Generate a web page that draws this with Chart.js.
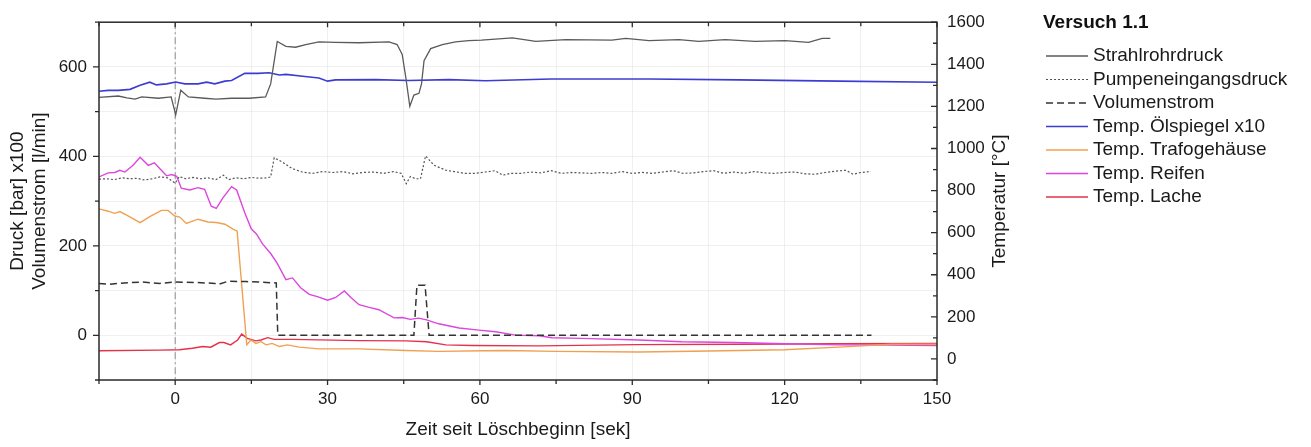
<!DOCTYPE html>
<html><head><meta charset="utf-8">
<script src="https://cdn.jsdelivr.net/npm/chart.js@4.4.1/dist/chart.umd.min.js"></script>
<style>html,body{margin:0;padding:0;background:#fff}</style>
</head><body>
<canvas id="c" width="1311" height="447"></canvas>
<script>
const legendTitle = 'Versuch 1.1';
const seriesNames = ['Strahlrohrdruck','Pumpeneingangsdruck','Volumenstrom','Temp. Ölspiegel x10','Temp. Trafogehäuse','Temp. Reifen','Temp. Lache'];
const rightTitle = 'Temperatur [°C]';
const xTickLabels = [0,30,60,90,120,150];
const leftTickLabels = [0,200,400,600];
const rightTickLabels = [0,200,400,600,800,1000,1200,1400,1600];

const tStrahl = [-15,-11.2,-9.5,-7.9,-6.6,-3.3,-0.8,0.1,1.1,2.6,5.8,8,11.1,14.6,17.8,18.8,20.1,21.8,23.7,25.7,28.3,31.6,36.2,42.1,43.7,44.7,45.4,46.2,47.0,48.0,48.5,49.0,50.3,52.6,55.2,57.8,60.3,66.4,71,76.9,86,88.7,93.3,99.2,103.1,108.3,114.2,120.1,124.7,127.4,129];
const vStrahl = [532,535,531,528,533,530,533,493,548,533,530,528,530,530,533,562,657,646,644,650,656,655,654,656,650,628,577,512,537,541,562,614,641,650,656,659,660,665,657,661,660,664,659,661,657,661,657,659,655,664,664];

const tPumpe = [-15,-13.5,-12,-10.5,-9,-7.5,-6,-4.5,-3,-1.5,0,0.8,2,3.5,5,6.5,8,9.5,10.5,12,13.5,15,16.5,18,18.8,19.5,21,23,25,27,29,31,33,35,37,39,41,43,44.5,45.5,46.3,47.3,48.3,49.3,51,53.3,55,57,59,61,63,64.5,66,68,70,72,74,76,78,80,82,84,86,88,90,92,94,96,98,100,102,104,106,108,110,112,114,116,118,120,122,124,126,128,130,132,133.5,135,137];
const vPumpe = [349,350,348,352,350,351,347,350,354,352,340,355,350,353,350,352,348,358,348,352,350,353,351,352,354,397,388,373,365,362,366,364,366,361,364,365,362,366,362,339,355,350,350,401,380,369,366,362,362,365,368,358,362,362,365,363,368,362,364,363,362,364,362,366,362,364,362,365,368,362,363,366,368,362,365,362,366,363,362,364,365,361,360,364,367,369,360,364,366];

const tVol = [-15,-13,-10,-6.5,-3,0,4,7.8,8.5,10.5,14,16.5,19.9,20.2,47.0,47.6,49.2,50.0,137.1];
const vVol = [116,114,117,119,116,119,118,116,114,121,120,119,117,0,0,112,112,0,0];

const tOel = [-15,-13.2,-11.2,-8.9,-6.9,-5.0,-3.7,-1.7,0.1,1.9,4.5,6.2,7.8,9.8,11.1,13.7,16.3,18.5,20.5,21.8,25.1,28.3,30.0,31.6,39.5,46.0,53.9,61.1,74,93.3,111,130.6,150];
const vOel = [1272,1276,1276,1281,1300,1315,1302,1307,1316,1307,1307,1315,1307,1320,1323,1357,1357,1360,1349,1352,1343,1335,1320,1326,1327,1323,1327,1322,1330,1330,1326,1320,1315];

const tTrafo = [-15,-13.2,-11.9,-10.9,-9.2,-6.9,-5.0,-2.7,-1.4,-0.1,0.9,2.2,4.5,6.5,8.1,9.8,11.4,12.2,14.1,14.9,15.9,16.9,17.9,19.1,20.5,22.1,24.4,28.3,36.2,45.4,51.9,61,65,75,91.3,105,120,130.6,141,150];
const vTrafo = [713,702,692,700,679,648,676,706,706,679,674,644,664,651,648,640,617,607,67,90,74,82,67,74,59,67,56,48,48,40,36,39,40,36,33,38,44,56,70,70];

const tReifen = [-15,-13.2,-11.9,-10.9,-9.9,-8.3,-6.9,-5.3,-4.1,-3.0,-1.7,-0.7,0.3,1.2,2.9,4.5,5.8,7.1,8.1,9.4,11.1,12.1,13.7,15.0,16.0,17.2,18.8,20.1,21.8,23.1,24.7,26.4,28.0,30.0,31.6,33.3,34.6,36.2,38.2,40.1,43.1,44.7,46.3,47.9,49.5,51.9,55.9,59.8,63.1,67.0,71.6,74.2,80,91.3,99.8,110,120,130.6,140,150];
const vReifen = [865,884,886,896,888,920,958,920,932,904,870,876,868,811,803,814,806,726,715,765,819,803,695,617,594,547,501,454,377,385,338,307,296,279,292,323,292,258,245,234,195,197,188,194,186,167,147,137,129,113,110,101,98,90,82,78,72,67,66,64];

const tLache = [-15,-3.1,0.8,3.4,5.4,7.0,8.7,9.6,10.9,12.3,13.1,14.2,15.9,16.9,18.2,19.5,23.1,36.2,45.4,49.5,53.3,58.5,71.6,91,111,130,150];
const vLache = [39,42,44,51,59,56,78,78,67,90,118,98,86,90,101,93,93,87,86,82,67,64,62,68,70,72,74];

const mk = (ts, vs) => ts.map((t, i) => ({x: t, y: vs[i]}));
const FONT = '"Liberation Sans", Arial, sans-serif';

const datasets = [
  {label: seriesNames[0], data: mk(tStrahl, vStrahl), yAxisID: 'y', borderColor: '#5a5a5a', borderWidth: 1.3, borderDash: []},
  {label: seriesNames[1], data: mk(tPumpe, vPumpe), yAxisID: 'y', borderColor: '#555555', borderWidth: 1.2, borderDash: [2, 2]},
  {label: seriesNames[2], data: mk(tVol, vVol), yAxisID: 'y', borderColor: '#333333', borderWidth: 1.5, borderDash: [7, 4]},
  {label: seriesNames[3], data: mk(tOel, vOel), yAxisID: 'y2', borderColor: '#3c3cd2', borderWidth: 1.6, borderDash: []},
  {label: seriesNames[4], data: mk(tTrafo, vTrafo), yAxisID: 'y2', borderColor: '#f0a050', borderWidth: 1.4, borderDash: []},
  {label: seriesNames[5], data: mk(tReifen, vReifen), yAxisID: 'y2', borderColor: '#dc46dc', borderWidth: 1.4, borderDash: []},
  {label: seriesNames[6], data: mk(tLache, vLache), yAxisID: 'y2', borderColor: '#e3324a', borderWidth: 1.4, borderDash: []}
].map(d => Object.assign(d, {pointRadius: 0, tension: 0, fill: false}));

const decor = {
  id: 'decor',
  beforeDatasetsDraw(chart) {
    const {ctx, chartArea: a, scales: {x}} = chart;
    const px = x.getPixelForValue(0);
    ctx.save();
    ctx.strokeStyle = '#8a8a8a'; ctx.lineWidth = 1; ctx.setLineDash([7, 3, 2, 3]);
    ctx.beginPath(); ctx.moveTo(px, a.top); ctx.lineTo(px, a.bottom); ctx.stroke();
    ctx.restore();
  },
  afterDraw(chart) {
    const {ctx, chartArea: a, scales: {x, y, y2}} = chart;
    ctx.save();
    ctx.setLineDash([]);
    ctx.strokeStyle = '#2b2b2b';
    ctx.lineWidth = 1.5;
    ctx.strokeRect(a.left, a.top, a.right - a.left, a.bottom - a.top);
    ctx.lineWidth = 1.3;
    ctx.beginPath();
    x.ticks.forEach(t => {
      const p = x.getPixelForValue(t.value);
      const L = xTickLabels.includes(t.value) ? 5 : 4;
      ctx.moveTo(p, a.bottom); ctx.lineTo(p, a.bottom + L);
      ctx.moveTo(p, a.top); ctx.lineTo(p, a.top + L);
    });
    y.ticks.forEach(t => {
      const p = y.getPixelForValue(t.value);
      const L = leftTickLabels.includes(t.value) ? 6 : 4;
      ctx.moveTo(a.left, p); ctx.lineTo(a.left - L, p);
    });
    y2.ticks.forEach(t => {
      const p = y2.getPixelForValue(t.value);
      const L = rightTickLabels.includes(t.value) ? 6 : 4;
      ctx.moveTo(a.right, p); ctx.lineTo(a.right - L, p);
    });
    ctx.stroke();

    // right axis title (reads bottom-to-top)
    ctx.save();
    ctx.translate(1000, (a.top + a.bottom) / 2);
    ctx.rotate(-Math.PI / 2);
    ctx.fillStyle = '#1a1a1a';
    ctx.font = '19px ' + FONT;
    ctx.textAlign = 'center';
    ctx.textBaseline = 'middle';
    ctx.fillText(rightTitle, 0, 0);
    ctx.restore();

    // legend
    ctx.fillStyle = '#111';
    ctx.textBaseline = 'middle';
    ctx.textAlign = 'left';
    ctx.font = 'bold 19px ' + FONT;
    ctx.fillText(legendTitle, 1043, 23);
    ctx.font = '19px ' + FONT;
    chart.data.datasets.forEach((d, i) => {
      const yy = 56 + i * 23.5;
      ctx.strokeStyle = d.borderColor;
      ctx.lineWidth = d.borderWidth;
      ctx.setLineDash(d.borderDash || []);
      ctx.beginPath(); ctx.moveTo(1046, yy); ctx.lineTo(1088, yy); ctx.stroke();
      ctx.setLineDash([]);
      ctx.fillStyle = '#1a1a1a';
      ctx.fillText(d.label, 1093, yy);
    });
    ctx.restore();
  }
};

const gridFaint = 'rgba(0,0,0,0.06)';
new Chart(document.getElementById('c'), {
  type: 'line',
  data: {datasets},
  plugins: [decor],
  options: {
    responsive: false,
    animation: false,
    layout: {padding: {left: 0, top: 14, right: 294, bottom: 0}},
    plugins: {legend: {display: false}, tooltip: {enabled: false}},
    scales: {
      x: {
        type: 'linear', min: -15, max: 150,
        afterFit(s) { s.height = 67; },
        border: {display: false},
        grid: {color: gridFaint, drawTicks: false},
        ticks: {stepSize: 15, autoSkip: false, maxRotation: 0, padding: 9, color: '#1a1a1a', font: {family: FONT, size: 17},
          callback: v => xTickLabels.includes(v) ? String(v) : ''},
        title: {display: true, text: 'Zeit seit Löschbeginn [sek]', color: '#1a1a1a', font: {family: FONT, size: 19}, padding: {top: 0, bottom: 6}}
      },
      y: {
        type: 'linear', position: 'left', min: -100, max: 700,
        afterFit(s) { s.width = 99; },
        border: {display: false},
        grid: {color: gridFaint, drawTicks: false},
        ticks: {stepSize: 100, autoSkip: false, padding: 12, color: '#1a1a1a', font: {family: FONT, size: 17},
          callback: v => leftTickLabels.includes(v) ? String(v) : ''},
        title: {display: true, text: ['Druck [bar] x100', 'Volumenstrom [l/min]'], color: '#1a1a1a', font: {family: FONT, size: 19, lineHeight: 1.15}, padding: {top: 7, bottom: 0}}
      },
      y2: {
        type: 'linear', position: 'right', min: -100, max: 1600,
        afterFit(s) { s.width = 80; },
        border: {display: false},
        grid: {display: false, drawTicks: false},
        ticks: {stepSize: 100, autoSkip: false, padding: 10, color: '#1a1a1a', font: {family: FONT, size: 17},
          callback: v => rightTickLabels.includes(v) ? String(v) : ''},
        title: {display: false}
      }
    }
  }
});
</script>
</body></html>
